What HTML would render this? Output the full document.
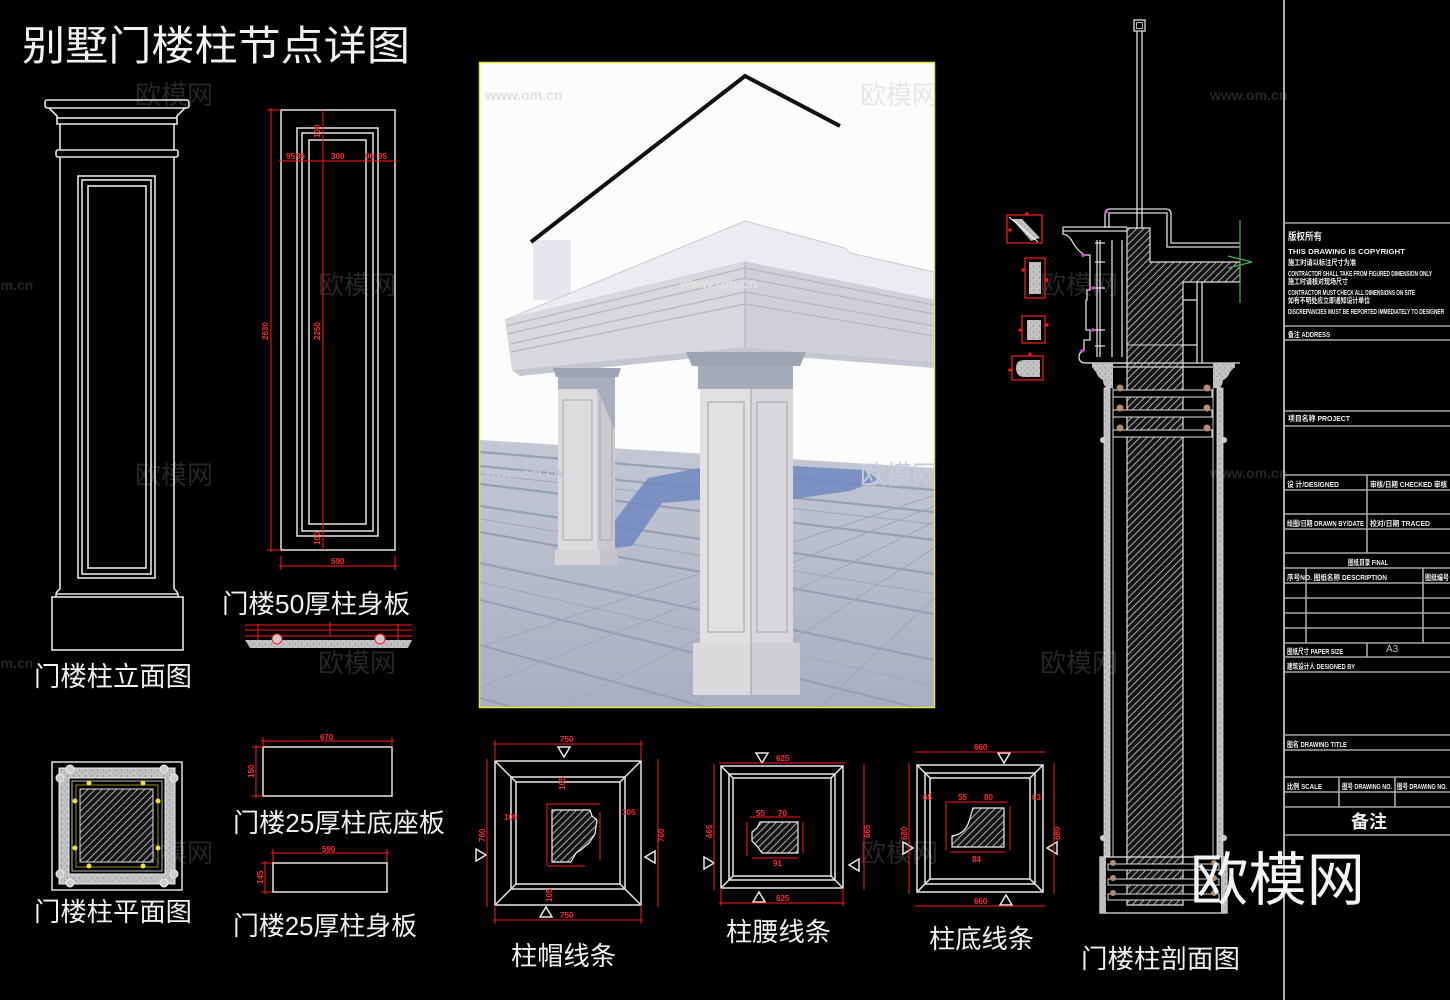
<!DOCTYPE html>
<html><head><meta charset="utf-8"><style>
html,body{margin:0;padding:0;background:#000;}
svg{display:block;}
text{font-family:"Liberation Sans","Noto Sans CJK SC",sans-serif;}
</style></head><body>
<svg width="1450" height="1000" viewBox="0 0 1450 1000" xmlns="http://www.w3.org/2000/svg">
<defs>
<pattern id="h" width="5" height="5" patternUnits="userSpaceOnUse" patternTransform="rotate(45)">
 <rect width="5" height="5" fill="#151515"/>
 <line x1="0" y1="0" x2="0" y2="5" stroke="#d0d0d0" stroke-width="1.6"/>
</pattern>
<pattern id="st" width="6" height="6" patternUnits="userSpaceOnUse">
 <rect width="6" height="6" fill="#c2c2c2"/>
 <circle cx="1.5" cy="2" r="0.7" fill="#888"/><circle cx="4.5" cy="4.5" r="0.6" fill="#999"/>
</pattern>
<linearGradient id="fl" x1="0" y1="0" x2="0" y2="1">
 <stop offset="0" stop-color="#c4c8d5"/><stop offset="1" stop-color="#a9afc1"/>
</linearGradient>
<clipPath id="rc"><rect x="480" y="63" width="454" height="644"/></clipPath>
</defs>
<rect width="1450" height="1000" fill="#000"/>

<!-- watermarks -->
<g fill="#262626" font-size="26">
<text x="135" y="104">欧模网</text><text x="318" y="294">欧模网</text><text x="135" y="484">欧模网</text>
<text x="318" y="672">欧模网</text><text x="1040" y="294">欧模网</text><text x="1040" y="672">欧模网</text>
<text x="135" y="862">欧模网</text><text x="860" y="862">欧模网</text>
</g>
<g fill="#262626" font-size="14" font-weight="bold">
<text x="1210" y="100">www.om.cn</text><text x="1210" y="478">www.om.cn</text>
<text x="-8" y="290">om.cn</text><text x="-8" y="668">om.cn</text>
</g>

<!-- title -->
<text x="22" y="60" font-size="41" fill="#f2f2f2" textLength="388" lengthAdjust="spacingAndGlyphs">别墅门楼柱节点详图</text>

<!-- elevation -->
<g fill="none" stroke="#e4e4e4" stroke-width="1.6">
<path d="M47 100 H187 Q189 100 189 104 V106 Q189 108 186 108 H48 Q45 108 45 105 V103 Q45 100 47 100 Z"/>
<path d="M49 108 Q53 112 57 116 V118 M185 108 Q181 112 177 116 V118"/>
<rect x="57" y="118" width="120" height="6"/>
<path d="M60 124 V150 M174 124 V150"/>
<rect x="56" y="150" width="122" height="7" rx="2"/>
<path d="M60 157 V589 M174 157 V589"/>
<path d="M60 589 Q57 591 56 594 V597 M174 589 Q177 591 178 594 V597 M56 594 H178"/>
<rect x="52" y="597" width="131" height="53"/>
<rect x="78" y="176" width="77" height="402"/>
<rect x="82" y="180" width="69" height="394"/>
<rect x="88" y="186" width="58" height="382"/>
</g>
<text x="34" y="686" font-size="27" fill="#f0f0f0" textLength="158" lengthAdjust="spacingAndGlyphs">门楼柱立面图</text>

<!-- 50 panel -->
<g fill="none" stroke="#e4e4e4" stroke-width="1.5">
<rect x="281" y="110" width="114" height="440"/>
<rect x="297" y="128" width="81" height="408"/>
<rect x="302" y="133" width="71" height="398"/>
<rect x="309" y="140" width="57" height="384"/>
</g>
<g stroke="#ff1a1a" stroke-width="1" fill="none">
<line x1="271" y1="108" x2="271" y2="552"/><line x1="267" y1="110" x2="281" y2="110"/><line x1="267" y1="550" x2="281" y2="550"/>
<line x1="323" y1="110" x2="323" y2="550"/>
<line x1="279" y1="161" x2="397" y2="161"/>
<line x1="279" y1="566" x2="397" y2="566"/><line x1="281" y1="556" x2="281" y2="570"/><line x1="395" y1="556" x2="395" y2="570"/>
</g>
<g fill="#ff2a2a" font-size="8" font-weight="bold">
<text x="268" y="340" transform="rotate(-90 268 340)">2630</text>
<text x="320" y="340" transform="rotate(-90 320 340)">2250</text>
<text x="286" y="159">95</text><text x="296" y="159">96</text><text x="331" y="159">300</text><text x="365" y="159">96</text><text x="378" y="159">95</text>
<text x="320" y="138" transform="rotate(-90 320 138)">100</text>
<text x="320" y="545" transform="rotate(-90 320 545)">100</text>
<text x="331" y="564">590</text>
</g>
<text x="222" y="613" font-size="26" fill="#f0f0f0" textLength="188" lengthAdjust="spacingAndGlyphs">门楼50厚柱身板</text>
<!-- small section strip -->
<g stroke="#ff1a1a" stroke-width="1">
<line x1="245" y1="625" x2="412" y2="625"/><line x1="245" y1="630" x2="412" y2="630"/><line x1="245" y1="636" x2="412" y2="636"/>
<line x1="330" y1="622" x2="330" y2="636"/><line x1="258" y1="624" x2="258" y2="640"/><line x1="398" y1="624" x2="398" y2="640"/>
</g>
<path d="M245 640 L412 640 L408 648 L250 648 Z" fill="url(#st)"/>
<circle cx="277" cy="639" r="5" fill="#ccc" stroke="#ff1a1a"/><circle cx="380" cy="639" r="5" fill="#ccc" stroke="#ff1a1a"/>

<!-- plan -->
<rect x="52" y="762" width="130" height="128" fill="none" stroke="#ddd" stroke-width="1.5"/>
<path fill-rule="evenodd" fill="url(#st)" stroke="#eee" d="M59 768 H175 V884 H59 Z M69 778 V874 H165 V778 Z"/>
<g fill="#ccc" stroke="#eee">
<circle cx="60" cy="778" r="4"/><circle cx="70" cy="769" r="4"/><circle cx="164" cy="769" r="4"/><circle cx="174" cy="778" r="4"/>
<circle cx="60" cy="874" r="4"/><circle cx="70" cy="883" r="4"/><circle cx="164" cy="883" r="4"/><circle cx="174" cy="874" r="4"/>
</g>
<rect x="72" y="781" width="90" height="90" fill="none" stroke="#bbb"/>
<rect x="76" y="785" width="82" height="82" fill="none" stroke="#c8b400" stroke-width="0.8"/>
<rect x="80" y="789" width="73" height="73" fill="url(#h)" stroke="#ddd"/>
<g fill="#f0e030">
<circle cx="89" cy="783" r="2.5"/><circle cx="143" cy="783" r="2.5"/><circle cx="75" cy="801" r="2.5"/><circle cx="158" cy="801" r="2.5"/>
<circle cx="75" cy="848" r="2.5"/><circle cx="158" cy="848" r="2.5"/><circle cx="89" cy="866" r="2.5"/><circle cx="143" cy="866" r="2.5"/>
</g>
<text x="34" y="921" font-size="26" fill="#f0f0f0" textLength="158" lengthAdjust="spacingAndGlyphs">门楼柱平面图</text>

<!-- base plates -->
<rect x="263" y="747" width="129" height="49" fill="none" stroke="#e4e4e4" stroke-width="1.5"/>
<g stroke="#ff1a1a" stroke-width="1">
<line x1="261" y1="741" x2="394" y2="741"/><line x1="263" y1="737" x2="263" y2="747"/><line x1="392" y1="737" x2="392" y2="747"/>
<line x1="256" y1="745" x2="256" y2="798"/><line x1="252" y1="747" x2="263" y2="747"/><line x1="252" y1="796" x2="263" y2="796"/>
<line x1="271" y1="853" x2="389" y2="853"/><line x1="273" y1="849" x2="273" y2="863"/><line x1="387" y1="849" x2="387" y2="863"/>
<line x1="265" y1="861" x2="265" y2="894"/><line x1="261" y1="863" x2="273" y2="863"/><line x1="261" y1="892" x2="273" y2="892"/>
</g>
<g fill="#ff2a2a" font-size="8" font-weight="bold">
<text x="320" y="740">670</text><text x="254" y="778" transform="rotate(-90 254 778)">150</text>
<text x="322" y="852">590</text><text x="263" y="884" transform="rotate(-90 263 884)">145</text>
</g>
<rect x="273" y="863" width="114" height="29" fill="none" stroke="#e4e4e4" stroke-width="1.5"/>
<text x="233" y="832" font-size="26" fill="#f0f0f0" textLength="212" lengthAdjust="spacingAndGlyphs">门楼25厚柱底座板</text>
<text x="233" y="935" font-size="26" fill="#f0f0f0" textLength="184" lengthAdjust="spacingAndGlyphs">门楼25厚柱身板</text>

<!-- 柱帽线条 -->
<g fill="none" stroke="#e8e8e8" stroke-width="1.5">
<rect x="495" y="761" width="146" height="144"/>
<rect x="511" y="777" width="114" height="112"/>
<rect x="516" y="782" width="104" height="102"/>
<path d="M495 761 L516 782 M641 761 L620 782 M495 905 L516 884 M641 905 L620 884"/>
<polygon points="558,747 570,747 564,757"/><polygon points="540,917 552,917 546,907"/>
<polygon points="476,849 476,861 486,855"/><polygon points="655,851 655,863 645,857"/>
</g>
<g stroke="#ff1a1a" stroke-width="1" fill="none">
<line x1="493" y1="744" x2="643" y2="744"/><line x1="495" y1="740" x2="495" y2="761"/><line x1="641" y1="740" x2="641" y2="761"/>
<line x1="493" y1="920" x2="643" y2="920"/><line x1="495" y1="905" x2="495" y2="924"/><line x1="641" y1="905" x2="641" y2="924"/>
<line x1="487" y1="759" x2="487" y2="907"/><line x1="658" y1="759" x2="658" y2="907"/>
<line x1="547" y1="804" x2="600" y2="804"/><line x1="547" y1="804" x2="547" y2="866"/>
<line x1="600" y1="812" x2="600" y2="860"/><line x1="548" y1="866" x2="585" y2="866"/>
</g>
<g fill="#ff2a2a" font-size="8" font-weight="bold">
<text x="560" y="742">750</text><text x="560" y="918">750</text>
<text x="485" y="842" transform="rotate(-90 485 842)">760</text><text x="664" y="842" transform="rotate(-90 664 842)">760</text>
<text x="504" y="820">105</text><text x="622" y="815">105</text><text x="565" y="790" transform="rotate(-90 565 790)">105</text><text x="552" y="902" transform="rotate(-90 552 902)">105</text>
</g>
<path d="M552 810 H590 L592 816 L597 820 L595 834 L589 843 L582 849 L576 853 L571 862 H552 Z" fill="url(#h)" stroke="#eee" stroke-width="1.2"/>
<text x="511" y="965" font-size="26" fill="#f0f0f0" textLength="105" lengthAdjust="spacingAndGlyphs">柱帽线条</text>

<!-- 柱腰线条 -->
<g fill="none" stroke="#e8e8e8" stroke-width="1.5">
<rect x="721" y="766" width="122" height="122"/>
<rect x="729" y="774" width="106" height="106"/>
<rect x="733" y="778" width="98" height="98"/>
<path d="M721 766 L733 778 M843 766 L831 778 M721 888 L733 876 M843 888 L831 876"/>
<polygon points="756,753 768,753 762,763"/><polygon points="753,902 765,902 759,892"/>
<polygon points="704,857 704,869 714,863"/><polygon points="859,859 859,871 849,865"/>
</g>
<g stroke="#ff1a1a" stroke-width="1" fill="none">
<line x1="719" y1="763" x2="845" y2="763"/><line x1="719" y1="903" x2="845" y2="903"/>
<line x1="721" y1="888" x2="721" y2="906"/><line x1="843" y1="888" x2="843" y2="906"/>
<line x1="714" y1="764" x2="714" y2="890"/><line x1="864" y1="764" x2="864" y2="890"/>
<line x1="750" y1="817" x2="800" y2="817"/><line x1="747" y1="822" x2="747" y2="856"/><line x1="803" y1="822" x2="803" y2="853"/><line x1="752" y1="858" x2="798" y2="858"/>
</g>
<g fill="#ff2a2a" font-size="8" font-weight="bold">
<text x="776" y="761">625</text><text x="776" y="901">625</text>
<text x="712" y="838" transform="rotate(-90 712 838)">665</text><text x="870" y="838" transform="rotate(-90 870 838)">665</text>
<text x="756" y="816">55</text><text x="778" y="816">70</text><text x="773" y="866">91</text>
</g>
<path d="M760 822 H798 V853 H762 L757 846 L752 841 V832 L757 828 Z" fill="url(#h)" stroke="#eee" stroke-width="1.2"/>
<text x="726" y="941" font-size="26" fill="#f0f0f0" textLength="105" lengthAdjust="spacingAndGlyphs">柱腰线条</text>

<!-- 柱底线条 -->
<g fill="none" stroke="#e8e8e8" stroke-width="1.5">
<rect x="917" y="765" width="126" height="127"/>
<rect x="925" y="773" width="110" height="111"/>
<rect x="930" y="778" width="100" height="101"/>
<path d="M917 765 L930 778 M1043 765 L1030 778 M917 892 L930 879 M1043 892 L1030 879"/>
<polygon points="998,753 1010,753 1004,763"/><polygon points="1000,905 1012,905 1006,895"/>
<polygon points="903,842 903,854 913,848"/><polygon points="1057,842 1057,854 1047,848"/>
</g>
<g stroke="#ff1a1a" stroke-width="1" fill="none">
<line x1="915" y1="752" x2="1045" y2="752"/><line x1="915" y1="906" x2="1045" y2="906"/>
<line x1="909" y1="763" x2="909" y2="894"/><line x1="1054" y1="763" x2="1054" y2="894"/>
<line x1="946" y1="802" x2="1008" y2="802"/><line x1="946" y1="802" x2="946" y2="850"/><line x1="1010" y1="806" x2="1010" y2="850"/><line x1="950" y1="852" x2="1005" y2="852"/>
</g>
<g fill="#ff2a2a" font-size="8" font-weight="bold">
<text x="974" y="750">660</text><text x="974" y="904">660</text>
<text x="907" y="840" transform="rotate(-90 907 840)">680</text><text x="1060" y="840" transform="rotate(-90 1060 840)">680</text>
<text x="923" y="800">65</text><text x="1032" y="800">63</text><text x="958" y="800">55</text><text x="984" y="800">80</text><text x="972" y="862">84</text>
</g>
<path d="M973 808 H1004 V847 H952 V836 Q964 834 968 824 Q971 815 973 808 Z" fill="url(#h)" stroke="#eee" stroke-width="1.2"/>
<text x="929" y="948" font-size="26" fill="#f0f0f0" textLength="105" lengthAdjust="spacingAndGlyphs">柱底线条</text>

<!-- section -->
<g fill="none" stroke="#dcdcdc" stroke-width="1.3">
<rect x="1134" y="20" width="11" height="11"/>
<rect x="1136.5" y="22.5" width="6" height="6" stroke-width="0.8"/>
<line x1="1137" y1="31" x2="1137" y2="228"/><line x1="1142" y1="31" x2="1142" y2="228"/>
<path d="M1105 228 V214 Q1105 209 1110 209 H1166 Q1171 209 1171 214 V243 H1240"/>
<path d="M1109 228 V213 H1167 V247 H1240"/>
<path d="M1063 227 H1127 M1063 231 H1127"/>
<path d="M1063 227 V234 Q1069 235 1072 241 Q1076 249 1083 254 V257"/>
<path d="M1083 255 H1090 V290 H1087 V300 H1086 V330 H1090 V340 H1084 V350 Q1079 352 1079 357 Q1079 363 1086 363 H1127"/>
<path d="M1097 240 V357 M1100 240 V357 M1112 240 V357 M1122 240 V357"/>
<path d="M1095 243 H1105 M1095 262 H1105 M1095 288 H1105 M1095 330 H1105 M1095 346 H1105"/>
<path d="M1197 282 V363 M1202 282 V363 M1183 300 H1197 M1183 345 H1197"/>
</g>
<path d="M1127 228 H1150 V262 H1240 V282 H1183 V905 H1127 Z" fill="url(#h)" stroke="#ddd" stroke-width="1.2"/>
<line x1="1127" y1="345" x2="1183" y2="345" stroke="#ddd"/>
<g stroke="#4caf50" stroke-width="1.2" fill="none">
<line x1="1240" y1="220" x2="1240" y2="303"/><path d="M1228 256 L1252 262 L1228 268"/>
</g>
<g fill="#e040e0">
<circle cx="1106" cy="212" r="1.8"/><circle cx="1083" cy="255" r="1.8"/><circle cx="1093" cy="288" r="1.8"/><circle cx="1093" cy="330" r="1.8"/><circle cx="1082" cy="351" r="1.8"/>
</g>
<g stroke="#dcdcdc" stroke-width="1.3">
<line x1="1086" y1="363" x2="1240" y2="363"/><line x1="1092" y1="367" x2="1235" y2="367"/>
</g>
<path d="M1092 363 H1113 V388 H1106 Q1103 384 1103 380 Q1098 378 1096 372 Q1093 369 1092 366 Z" fill="url(#st)"/>
<path d="M1235 363 H1213 V388 H1220 Q1223 384 1223 380 Q1228 378 1230 372 Q1233 369 1235 366 Z" fill="url(#st)"/>
<rect x="1104" y="388" width="6" height="469" fill="url(#st)" stroke="#ddd" stroke-width="0.8"/>
<rect x="1217" y="388" width="6" height="469" fill="url(#st)" stroke="#ddd" stroke-width="0.8"/>
<g fill="none" stroke="#ccc" stroke-width="1"><line x1="1113" y1="388" x2="1113" y2="857"/><line x1="1213" y1="388" x2="1213" y2="857"/></g>
<g fill="#ccc"><circle cx="1103" cy="440" r="3"/><circle cx="1224" cy="440" r="3"/><circle cx="1103" cy="838" r="3"/><circle cx="1224" cy="838" r="3"/></g>
<g fill="#000" stroke="#e0e0e0" stroke-width="1">
<rect x="1113" y="390" width="99" height="7"/><rect x="1113" y="410" width="99" height="7"/><rect x="1113" y="430" width="99" height="7"/>
</g>
<g fill="#b48c70">
<circle cx="1120" cy="388" r="3.5"/><circle cx="1207" cy="388" r="3.5"/><circle cx="1120" cy="408" r="3.5"/><circle cx="1207" cy="408" r="3.5"/><circle cx="1120" cy="428" r="3.5"/><circle cx="1207" cy="428" r="3.5"/>
</g>
<rect x="1100" y="857" width="127" height="56" fill="none" stroke="#ddd" stroke-width="1.3"/>
<rect x="1100" y="857" width="6" height="56" fill="url(#st)"/><rect x="1221" y="857" width="6" height="56" fill="url(#st)"/>
<g fill="#000" stroke="#e0e0e0" stroke-width="1">
<rect x="1108" y="864" width="111" height="6"/><rect x="1108" y="879" width="111" height="6"/><rect x="1108" y="894" width="111" height="6"/>
</g>
<g fill="#b48c70">
<circle cx="1113" cy="863" r="3"/><circle cx="1214" cy="863" r="3"/><circle cx="1113" cy="878" r="3"/><circle cx="1214" cy="878" r="3"/><circle cx="1113" cy="893" r="3"/><circle cx="1214" cy="893" r="3"/>
</g>
<!-- small red details -->
<g stroke="#ff1a1a" stroke-width="1.2" fill="none">
<rect x="1007" y="215" width="35" height="28"/>
<rect x="1025" y="258" width="20" height="40"/>
<rect x="1022" y="316" width="23" height="27"/>
<rect x="1012" y="356" width="31" height="24"/>
</g>
<path d="M1012 219 H1022 L1040 238 L1031 241 Z" fill="url(#st)"/>
<line x1="1009" y1="217" x2="1038" y2="242" stroke="#fff" stroke-width="1"/>
<rect x="1029" y="262" width="12" height="32" fill="url(#st)"/>
<rect x="1027" y="320" width="14" height="20" fill="url(#st)"/>
<path d="M1025 360 H1040 V377 H1025 Q1016 377 1016 368 Q1016 360 1025 360 Z" fill="url(#st)"/>
<g fill="#ff1a1a">
<circle cx="1010" cy="230" r="1.6"/><circle cx="1027" cy="214" r="1.6"/><circle cx="1023" cy="270" r="1.6"/><circle cx="1047" cy="280" r="1.6"/>
<circle cx="1020" cy="330" r="1.6"/><circle cx="1047" cy="325" r="1.6"/><circle cx="1010" cy="370" r="1.6"/><circle cx="1030" cy="354" r="1.6"/>
</g>
<text x="1081" y="968" font-size="26" fill="#f0f0f0" textLength="159" lengthAdjust="spacingAndGlyphs">门楼柱剖面图</text>

<!-- render -->
<g clip-path="url(#rc)">
<rect x="480" y="63" width="454" height="644" fill="#fcfcfc"/>
<polygon points="480,440 934,468 934,707 480,707" fill="url(#fl)"/>
<g stroke="#979fb2" stroke-width="2.2" fill="none">
<line x1="480" y1="452" x2="934" y2="490"/><line x1="480" y1="466" x2="934" y2="512"/>
<line x1="480" y1="484" x2="934" y2="540"/><line x1="480" y1="506" x2="934" y2="574"/>
<line x1="480" y1="532" x2="934" y2="614"/><line x1="480" y1="563" x2="934" y2="660"/>
<line x1="480" y1="600" x2="934" y2="712"/><line x1="480" y1="645" x2="934" y2="770"/>
<line x1="480" y1="698" x2="934" y2="830"/>
</g>
<g stroke="#a0a6b8" stroke-width="1" fill="none">
<line x1="1100" y1="440" x2="300" y2="707"/><line x1="1100" y1="440" x2="430" y2="707"/>
<line x1="1100" y1="440" x2="560" y2="707"/><line x1="1100" y1="440" x2="690" y2="707"/>
<line x1="1100" y1="440" x2="820" y2="707"/><line x1="1100" y1="440" x2="940" y2="707"/>
<line x1="480" y1="474" x2="934" y2="524"/><line x1="480" y1="519" x2="934" y2="594"/><line x1="480" y1="582" x2="934" y2="686"/>
</g>
<polygon points="615,548 615,520 648,478 700,468 700,500 662,503 632,546" fill="#6f88bf" opacity="0.85"/>
<polygon points="793,466 866,470 878,480 850,491 793,499" fill="#6f88bf" opacity="0.85"/>
<rect x="533" y="240" width="38" height="60" fill="#e6e6ee"/>
<polyline points="531,242 745,76 840,126" fill="none" stroke="#111" stroke-width="4"/>
<polygon points="505,320 745,221 845,248 850,253 934,272 934,300 745,262" fill="#ececf0" stroke="#c8c8d0"/>
<polygon points="505,320 745,262 745,347 512,370" fill="#d8d8de"/>
<polygon points="745,262 934,300 934,362 745,347" fill="#cfd0d8"/>
<g stroke="#b4b6c0" stroke-width="1.2" fill="none">
<line x1="506" y1="326" x2="745" y2="268"/><line x1="508" y1="334" x2="745" y2="278"/>
<line x1="510" y1="344" x2="745" y2="292"/><line x1="511" y1="352" x2="745" y2="304"/>
<line x1="745" y1="268" x2="934" y2="305"/><line x1="745" y1="278" x2="934" y2="314"/>
<line x1="745" y1="292" x2="934" y2="326"/><line x1="745" y1="304" x2="934" y2="336"/>
<line x1="745" y1="262" x2="745" y2="347"/>
</g>
<polygon points="512,370 745,347 934,362 934,368 745,353 520,376" fill="#c4c6d0"/>
<!-- left pillar -->
<polygon points="553,368 621,368 618,377 556,377" fill="#9ea4b4"/>
<rect x="558" y="377" width="57" height="12" fill="#a9aebc"/>
<rect x="558" y="389" width="39" height="161" fill="#dddbdd"/>
<rect x="597" y="389" width="18" height="161" fill="#cbc9cf"/>
<polygon points="597,389 615,389 615,430" fill="#a9afbf"/>
<rect x="555" y="550" width="45" height="15" fill="#d6d4d6"/>
<rect x="600" y="550" width="18" height="15" fill="#c6c4ca"/>
<g fill="none" stroke="#a8a8ae" stroke-width="1"><rect x="563" y="400" width="29" height="140"/><rect x="600" y="400" width="12" height="140"/></g>
<!-- right pillar -->
<polygon points="686,352 806,352 800,366 692,366" fill="#9ea4b4"/>
<rect x="698" y="366" width="95" height="23" fill="#a6abba"/>
<rect x="700" y="389" width="51" height="256" fill="#e2e0e2"/>
<rect x="751" y="389" width="42" height="256" fill="#d9d7db"/>
<rect x="693" y="643" width="58" height="52" fill="#dcdadc"/>
<rect x="751" y="643" width="49" height="52" fill="#d0ced3"/>
<g fill="none" stroke="#a8a8ae" stroke-width="1.2"><rect x="708" y="402" width="36" height="230"/><rect x="757" y="402" width="30" height="230"/><line x1="751" y1="389" x2="751" y2="695"/></g>
<g fill="#e6e6e6" font-size="26"><text x="860" y="104">欧模网</text></g>
<g fill="#c8ccd8" font-size="26"><text x="860" y="484">欧模网</text></g>
<g fill="#e0e0e0" font-size="14" font-weight="bold"><text x="485" y="100">www.om.cn</text><text x="680" y="288">www.om.cn</text></g>
<g fill="#c4c8d4" font-size="14" font-weight="bold"><text x="485" y="478">www.om.cn</text></g>
</g>
<rect x="479.5" y="62.5" width="455" height="645" fill="none" stroke="#e8e83a" stroke-width="1.5"/>

<!-- title block -->
<line x1="1284" y1="0" x2="1284" y2="1000" stroke="#b0b0b0" stroke-width="2"/>
<g stroke="#a8a8a8" stroke-width="1.6">
<line x1="1284" y1="223" x2="1450" y2="223"/><line x1="1284" y1="326" x2="1450" y2="326"/><line x1="1284" y1="340" x2="1450" y2="340"/>
<line x1="1284" y1="411" x2="1450" y2="411"/><line x1="1284" y1="426" x2="1450" y2="426"/>
<line x1="1284" y1="475" x2="1450" y2="475"/><line x1="1284" y1="490" x2="1450" y2="490"/>
<line x1="1284" y1="514" x2="1450" y2="514"/><line x1="1284" y1="529" x2="1450" y2="529"/>
<line x1="1284" y1="553" x2="1450" y2="553"/><line x1="1284" y1="568" x2="1450" y2="568"/>
<line x1="1284" y1="583" x2="1450" y2="583"/><line x1="1284" y1="598" x2="1450" y2="598"/>
<line x1="1284" y1="613" x2="1450" y2="613"/><line x1="1284" y1="628" x2="1450" y2="628"/>
<line x1="1284" y1="643" x2="1450" y2="643"/><line x1="1284" y1="657" x2="1450" y2="657"/>
<line x1="1284" y1="672" x2="1450" y2="672"/>
<line x1="1284" y1="735" x2="1450" y2="735"/><line x1="1284" y1="750" x2="1450" y2="750"/>
<line x1="1284" y1="777" x2="1450" y2="777"/><line x1="1284" y1="792" x2="1450" y2="792"/>
<line x1="1284" y1="807" x2="1450" y2="807"/><line x1="1284" y1="835" x2="1450" y2="835"/>
<line x1="1367" y1="475" x2="1367" y2="553"/><line x1="1306" y1="568" x2="1306" y2="643"/>
<line x1="1423" y1="568" x2="1423" y2="643"/><line x1="1367" y1="643" x2="1367" y2="657"/>
<line x1="1339" y1="777" x2="1339" y2="807"/><line x1="1395" y1="777" x2="1395" y2="807"/>
</g>
<g fill="#eeeeee" font-size="7.5" font-weight="bold">
<text x="1288" y="240" font-size="10" textLength="34" lengthAdjust="spacingAndGlyphs">版权所有</text>
<text x="1288" y="254" textLength="117" lengthAdjust="spacingAndGlyphs">THIS  DRAWING  IS  COPYRIGHT</text>
<text x="1288" y="265" textLength="68" lengthAdjust="spacingAndGlyphs">施工时请以标注尺寸为准</text>
<text x="1288" y="276" textLength="144" lengthAdjust="spacingAndGlyphs">CONTRACTOR SHALL TAKE FROM FIGURED DIMENSION ONLY</text>
<text x="1288" y="284" textLength="60" lengthAdjust="spacingAndGlyphs">施工时请核对现场尺寸</text>
<text x="1288" y="295" textLength="127" lengthAdjust="spacingAndGlyphs">CONTRACTOR MUST CHECK ALL DIMENSIONS ON SITE</text>
<text x="1288" y="303" textLength="82" lengthAdjust="spacingAndGlyphs">如有不明处应立即通知设计单位</text>
<text x="1288" y="314" textLength="156" lengthAdjust="spacingAndGlyphs">DISCREPANCIES MUST BE REPORTED IMMEDIATELY TO DESIGNER</text>
<text x="1288" y="337" textLength="42" lengthAdjust="spacingAndGlyphs">备注  ADDRESS</text>
<text x="1288" y="421" textLength="62" lengthAdjust="spacingAndGlyphs">项目名称  PROJECT</text>
<text x="1287" y="487" textLength="52" lengthAdjust="spacingAndGlyphs">设 计/DESIGNED</text>
<text x="1370" y="487" textLength="77" lengthAdjust="spacingAndGlyphs">审核/日期 CHECKED 审核</text>
<text x="1287" y="526" textLength="77" lengthAdjust="spacingAndGlyphs">绘图/日期 DRAWN BY/DATE</text>
<text x="1370" y="526" textLength="60" lengthAdjust="spacingAndGlyphs">校对/日期 TRACED</text>
<text x="1348" y="565" textLength="40" lengthAdjust="spacingAndGlyphs">图纸目录  FINAL</text>
<text x="1287" y="580" textLength="100" lengthAdjust="spacingAndGlyphs">序号NO. 图纸名称  DESCRIPTION</text>
<text x="1425" y="580" textLength="24" lengthAdjust="spacingAndGlyphs">图纸编号</text>
<text x="1287" y="654" textLength="56" lengthAdjust="spacingAndGlyphs">图纸尺寸 PAPER SIZE</text>
<text x="1287" y="669" textLength="68" lengthAdjust="spacingAndGlyphs">建筑设计人 DESIGNED BY</text>
<text x="1287" y="747" textLength="60" lengthAdjust="spacingAndGlyphs">图名  DRAWING  TITLE</text>
<text x="1287" y="789" textLength="35" lengthAdjust="spacingAndGlyphs">比例  SCALE</text>
<text x="1342" y="789" textLength="50" lengthAdjust="spacingAndGlyphs">图号  DRAWING NO.</text>
<text x="1397" y="789" textLength="50" lengthAdjust="spacingAndGlyphs">图号  DRAWING NO.</text>
</g>
<text x="1386" y="652" font-size="10" fill="#bbbbbb">A3</text>
<text x="1351" y="828" font-size="18" fill="#f0f0f0" font-weight="bold">备注</text>

<!-- big watermark -->
<text x="1190" y="900" font-size="58" fill="#f4f4f4" textLength="175" lengthAdjust="spacingAndGlyphs">欧模网</text>
</svg>
</body></html>
